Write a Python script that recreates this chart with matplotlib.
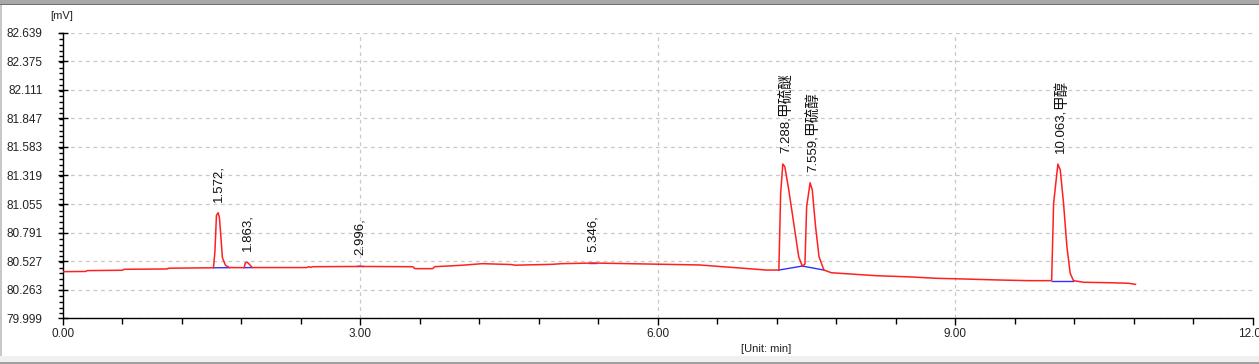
import matplotlib
matplotlib.use("Agg")
import matplotlib.pyplot as plt
from matplotlib.ticker import MultipleLocator, FixedLocator
from matplotlib.patches import Rectangle

plt.rcParams['font.family'] = ['Liberation Sans', 'Noto Sans CJK SC', 'DejaVu Sans']

# ---- data ----
time_min = [0.00, 0.23, 0.25, 0.60, 0.62, 1.05, 1.07, 1.52,
            1.535, 1.55, 1.567, 1.58, 1.595, 1.61, 1.64, 1.68,
            1.83, 1.84, 1.86, 1.88, 1.91,
            2.46, 2.48, 2.50, 2.52, 2.96, 3.00, 3.03, 3.53, 3.55, 3.73, 3.75,
            4.02, 4.23, 4.52, 4.56, 4.94, 5.03, 5.346, 6.42, 6.65, 6.87, 7.09, 7.22,
            7.238, 7.26, 7.28, 7.32, 7.37, 7.42, 7.456,
            7.483, 7.50, 7.535, 7.557, 7.59, 7.625, 7.674,
            7.75, 8.20, 8.56, 8.80, 9.10, 9.44, 9.74, 9.97,
            9.99, 10.033, 10.057, 10.09, 10.124, 10.157, 10.19,
            10.29, 10.55, 10.745, 10.78, 10.815]
signal_mv = [80.430, 80.432, 80.440, 80.443, 80.452, 80.455, 80.462, 80.466,
             80.620, 80.950, 80.975, 80.930, 80.750, 80.560, 80.490, 80.468,
             80.467, 80.510, 80.517, 80.500, 80.468,
             80.468, 80.476, 80.470, 80.476, 80.478, 80.481, 80.478, 80.476, 80.458, 80.458, 80.476,
             80.489, 80.504, 80.496, 80.490, 80.498, 80.504, 80.510, 80.492, 80.476, 80.461, 80.445, 80.445,
             81.155, 81.425, 81.400, 81.185, 80.877, 80.568, 80.482,
             80.500, 81.030, 81.252, 81.185, 80.846, 80.568, 80.445,
             80.420, 80.393, 80.381, 80.369, 80.362, 80.353, 80.347, 80.347,
             81.062, 81.425, 81.370, 81.062, 80.661, 80.415, 80.347,
             80.332, 80.328, 80.323, 80.318, 80.313]

# integration baselines (start time, end time) / (start mV, end mV)
base_t = [(1.523, 1.684), (1.828, 1.91), (2.965, 3.03), (5.31, 5.38),
          (7.22, 7.456), (7.456, 7.674), (9.97, 10.19)]
base_v = [(80.466, 80.467), (80.467, 80.468), (80.480, 80.480), (80.510, 80.510),
          (80.445, 80.482), (80.482, 80.445), (80.347, 80.347)]

peak_rt = [1.572, 1.863, 2.996, 5.346, 7.288, 7.559, 10.063]
peak_top = [80.975, 80.517, 80.481, 80.510, 81.425, 81.252, 81.425]
peak_rt_text = ['1.572,', '1.863,', '2.996,', '5.346,', '7.288,', '7.559,', '10.063,']
peak_names = ['', '', '', '', '甲硫醚', '甲硫醇', '甲醇']

y_ticks = [79.999, 80.263, 80.527, 80.791, 81.055, 81.319, 81.583, 81.847, 82.111, 82.375, 82.639]
y_ticklabels = ['79.999', '80.263', '80.527', '80.791', '81.055', '81.319',
                '81.583', '81.847', '82.111', '82.375', '82.639']
x_ticks = [0, 3, 6, 9, 12]
x_ticklabels = ['0.00', '3.00', '6.00', '9.00', '12.00']

# ---- figure ----
W, H = 1259, 364
fig = plt.figure(figsize=(W / 100, H / 100), dpi=100)
fig.patch.set_facecolor('white')

# window frame decorations
fig.add_artist(Rectangle((0, 1 - 4 / H), 1, 4 / H, transform=fig.transFigure,
                         facecolor='#a8a8a8', edgecolor='none'))
fig.add_artist(Rectangle((0, 1 - 5 / H), 1, 1 / H, transform=fig.transFigure,
                         facecolor='#707070', edgecolor='none'))
fig.add_artist(Rectangle((0, 2 / H), 1, 6 / H, transform=fig.transFigure,
                         facecolor='#f0f0f0', edgecolor='none'))
fig.add_artist(Rectangle((0, 0), 1, 2 / H, transform=fig.transFigure,
                         facecolor='#a0a0a0', edgecolor='none'))
fig.add_artist(Rectangle((0, 8 / H), 1.5 / W, 1 - 13 / H, transform=fig.transFigure,
                         facecolor='#c8c8c8', edgecolor='none'))

ax = fig.add_axes([62.7 / W, (H - 318.3) / H, (1253 - 62.7) / W, (318.3 - 32.7) / H])
ax.set_xlim(0, 12)
ax.set_ylim(79.999, 82.639)

ax.plot(time_min, signal_mv, color='#ff2020', lw=1.1, zorder=3)
for (t0, t1), (v0, v1) in zip(base_t, base_v):
    ax.plot([t0, t1], [v0, v1], color='#3030ff', lw=1.0, zorder=2)

for rt, top, num, name in zip(peak_rt, peak_top, peak_rt_text, peak_names):
    t1 = ax.annotate(num, xy=(rt, top), xytext=(0, 8), textcoords='offset points',
                     rotation=90, ha='center', va='bottom', fontsize=9.5, color='#111111',
                     zorder=4, annotation_clip=False)
    if name:
        ax.annotate(name, xy=(0.5, 1.0), xycoords=t1, xytext=(0, 0),
                    textcoords='offset points', rotation=90, ha='center', va='bottom',
                    fontsize=10.5, color='#111111', zorder=4, annotation_clip=False)

# axes styling
for s in ['top', 'right']:
    ax.spines[s].set_visible(False)
for s in ['left', 'bottom']:
    ax.spines[s].set_color('black')
    ax.spines[s].set_linewidth(1.0)

ax.yaxis.set_major_locator(FixedLocator(y_ticks))
ax.set_yticklabels(y_ticklabels)
ax.yaxis.set_minor_locator(MultipleLocator(0.264 / 5))
ax.xaxis.set_major_locator(FixedLocator(x_ticks))
ax.set_xticklabels(x_ticklabels)
ax.xaxis.set_minor_locator(MultipleLocator(0.6))

ax.tick_params(axis='y', which='major', direction='inout', length=7, width=1, labelsize=8.5,
               labelcolor='#222222', pad=11)
ax.tick_params(axis='y', which='minor', direction='out', length=3, width=1)
ax.tick_params(axis='x', which='major', direction='out', length=5, width=1, labelsize=8.5,
               labelcolor='#222222', pad=2)
ax.tick_params(axis='x', which='minor', direction='out', length=4, width=1)

ax.grid(True, which='major', color='#c8c8c8', linestyle=(0, (3, 3)), linewidth=0.9)
ax.set_axisbelow(True)

fig.text(50 / W, 1 - 16 / H, '[mV]', fontsize=8, color='#222222', ha='left', va='center')
fig.text(766 / W, 1 - 349 / H, '[Unit: min]', fontsize=8, color='#222222', ha='center', va='center')

fig.savefig('out.png', dpi=100, facecolor='white')
